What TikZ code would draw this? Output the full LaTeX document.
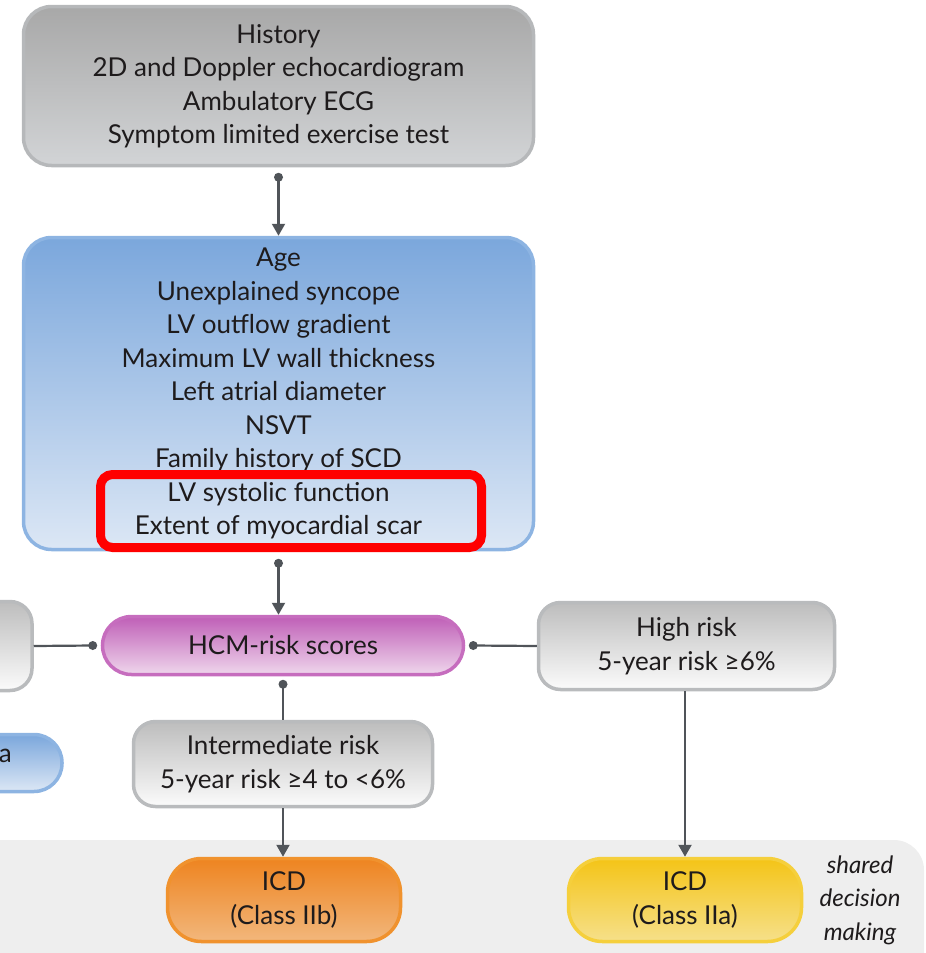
\documentclass[tikz,border=0pt]{standalone}
\usepackage{fontspec}
\setmainfont{Lato}
\usetikzlibrary{arrows.meta}

\definecolor{txt}{HTML}{1E1B1C}
\definecolor{cgray}{HTML}{505459}
\definecolor{band}{HTML}{EEEEEE}
\definecolor{topA}{HTML}{A8A8A8}
\definecolor{topB}{HTML}{D2D4D6}
\definecolor{topE}{HTML}{B6B8BA}
\definecolor{bluA}{HTML}{7BA7DC}
\definecolor{bluB}{HTML}{DCE7F5}
\definecolor{bluE}{HTML}{8DB4E2}
\definecolor{pnkA}{HTML}{BF5FB7}
\definecolor{pnkB}{HTML}{EFD6EC}
\definecolor{pnkE}{HTML}{C66DBE}
\definecolor{gryA}{HTML}{BDBDBD}
\definecolor{gryB}{HTML}{FBFBFB}
\definecolor{gryE}{HTML}{B9BBBD}
\definecolor{orgA}{HTML}{EE8420}
\definecolor{orgB}{HTML}{F2B77C}
\definecolor{orgE}{HTML}{F0922E}
\definecolor{ylwA}{HTML}{F4C417}
\definecolor{ylwB}{HTML}{F6E08A}
\definecolor{ylwE}{HTML}{F5CF3C}
\definecolor{hilite}{HTML}{FF0000}

\begin{document}
\begin{tikzpicture}[x=1pt,y=-1pt,
  box/.style={draw, line width=3.5pt, align=center, inner sep=0pt,
    text=txt, font=\fontsize{26}{33.5}\selectfont},
  graybig/.style={box, draw=topE, top color=topA, bottom color=topB, rounded corners=28pt},
  bluebox/.style={box, draw=bluE, top color=bluA, bottom color=bluB, rounded corners=28pt},
  pinkbox/.style={box, draw=pnkE, top color=pnkA, bottom color=pnkB, rounded corners=29pt},
  riskbox/.style={box, draw=gryE, top color=gryA, bottom color=gryB, rounded corners=22pt},
  orangebox/.style={box, draw=orgE, top color=orgA, bottom color=orgB, rounded corners=34pt},
  yellowbox/.style={box, draw=ylwE, top color=ylwA, bottom color=ylwB, rounded corners=34pt},
  conn/.style={draw=cgray, line width=2.2pt},
  arr/.style={conn, -{Triangle[width=13pt,length=12pt]}},
  dot/.style={fill=cgray}
]
\useasboundingbox (0,0) rectangle (926,953);
\clip (0,0) rectangle (926,953);

% decision band along the bottom
\fill[band, rounded corners=30pt] (-40,840) rectangle (924,1000);

% assessment boxes
\node[graybig, minimum width=510pt, minimum height=159pt] (exam) at (278.5,86)
  {History\\2D and Doppler echocardiogram\\Ambulatory ECG\\Symptom limited exercise test};
\node[bluebox, minimum width=510pt, minimum height=312pt] (factors) at (278.5,393.5)
  {Age\\Unexplained syncope\\LV outflow gradient\\Maximum LV wall thickness\\Left atrial diameter\\NSVT\\Family history of SCD\\LV systolic function\\Extent of myocardial scar};

% highlight around the last two factors
\draw[hilite, line width=9pt, rounded corners=12pt] (100.5,474.5) rectangle (481.5,547.5);

% risk score and categories
\node[pinkbox, minimum width=361pt, minimum height=58pt] (score) at (283,645.5) {HCM-risk scores};
\node[riskbox, minimum width=232pt, minimum height=89pt] (low) at (-84,646) {};
\node[riskbox, minimum width=296pt, minimum height=87pt] (high) at (686.5,646)
  {High risk\\5-year risk ≥6\%};
\node[riskbox, minimum width=299pt, minimum height=85pt] (inter) at (283,764)
  {Intermediate risk\\5-year risk ≥4 to <6\%};
\node[bluebox, rounded corners=28pt, minimum width=200pt, minimum height=57pt] (lowside) at (-38,763) {};
\node[text=txt, font=\fontsize{26}{33.5}\selectfont, anchor=east, inner sep=0pt] (lowtxt) at (12,756) {a};

% recommendations
\node[orangebox, minimum width=233pt, minimum height=83pt] (icdb) at (284,900) {ICD\\(Class IIb)};
\node[yellowbox, minimum width=233pt, minimum height=83pt] (icda) at (685,900) {ICD\\(Class IIa)};
\node[text=txt, align=center, font=\itshape\fontsize{24}{33.5}\selectfont] (shared) at (860,900)
  {shared\\decision\\making};

% connectors
\coordinate (d1) at ([yshift=-10pt]exam.south);
\draw[arr] (d1) -- (exam.south |- factors.north);
\fill[dot] (d1) circle (4.5pt);

\coordinate (d2) at ([yshift=-12pt]factors.south);
\draw[arr] (d2) -- (factors.south |- score.north);
\fill[dot] (d2) circle (4.5pt);

\coordinate (d3) at ([xshift=-8pt]score.west);
\draw[conn] (d3) -- (low.east);
\fill[dot] (d3) circle (4.5pt);

\coordinate (d4) at ([xshift=8pt]score.east);
\draw[conn] (d4) -- (high.west);
\fill[dot] (d4) circle (4.5pt);

\coordinate (d5) at ([yshift=-8pt]score.south);
\draw[conn] (d5) -- (inter.north);
\fill[dot] (d5) circle (4.5pt);

\draw[arr] (inter.south) -- (inter.south |- icdb.north);
\draw[arr] (high.south -| icda.north) -- (icda.north);
\end{tikzpicture}
\end{document}
